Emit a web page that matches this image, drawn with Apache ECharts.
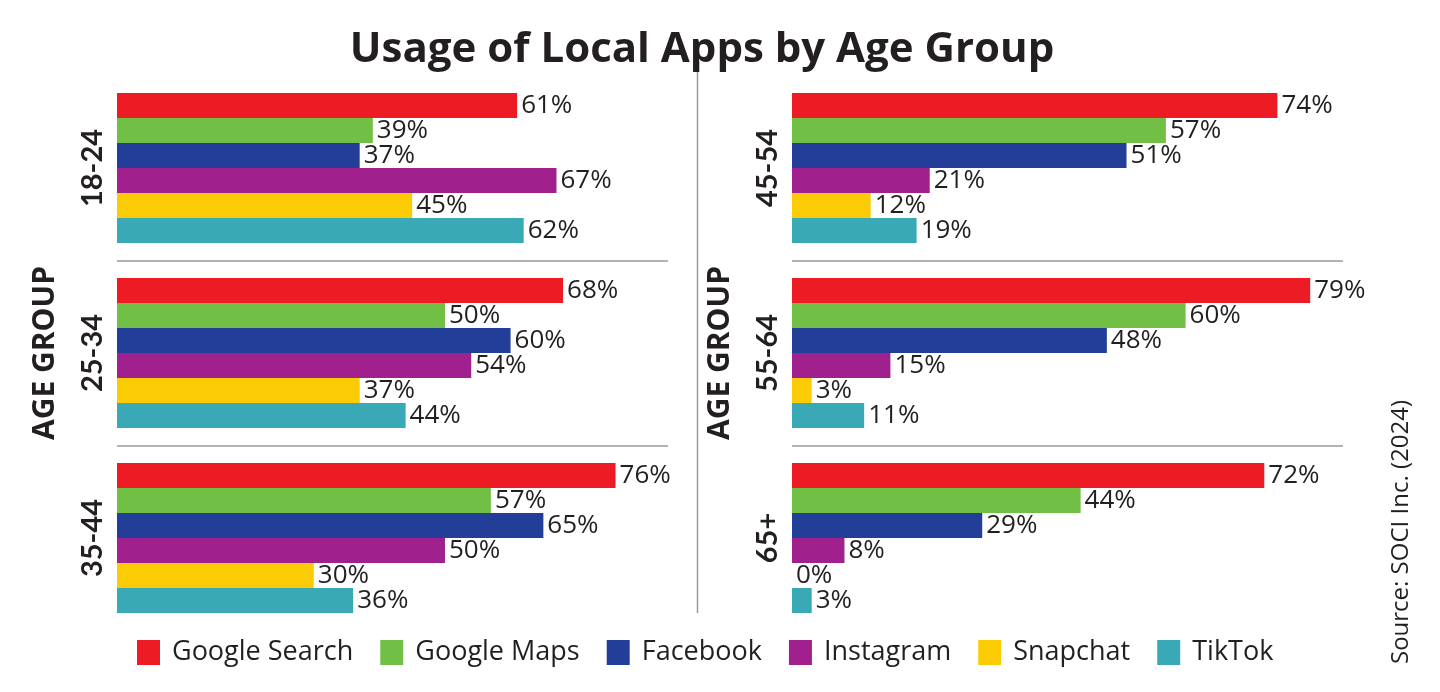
<!DOCTYPE html>
<html><head><meta charset="utf-8">
<script src="https://cdn.jsdelivr.net/npm/echarts@6/dist/echarts.min.js"></script>
<style>html,body{margin:0;padding:0;background:#fff}#c{width:1440px;height:692px}</style>
</head><body><div id="c"></div>
<script>
const seriesNames = ['Google Search','Google Maps','Facebook','Instagram','Snapchat','TikTok'];
const leftGroups = ['18-24','25-34','35-44'];
const rightGroups = ['45-54','55-64','65+'];
// values per app, in order 18-24, 25-34, 35-44, 45-54, 55-64, 65+
const googleSearch = [61,68,76,74,79,72];
const googleMaps   = [39,50,57,57,60,44];
const facebook     = [37,60,65,51,48,29];
const instagram    = [67,54,50,21,15,8];
const snapchat     = [45,37,30,12,3,0];
const tiktok       = [62,44,36,19,11,3];
const titleText = 'Usage of Local Apps by Age Group';
const sourceText = 'Source: SOCI Inc. (2024)';
const axisName = 'AGE GROUP';

const colors = ['#ED1C24','#71BF44','#233E98','#A0208E','#FBCB05','#38A9B5'];
const values = [googleSearch, googleMaps, facebook, instagram, snapchat, tiktok];
const FONT = 'Open Sans';
const TXT = '#231f20';

const chart = echarts.init(document.getElementById('c'));

function yAx(idx, data){
  return {
    gridIndex: idx, type: 'category', data: data, inverse: true,
    axisLine: {show:false}, axisTick: {show:false},
    axisLabel: {rotate: 90, fontSize: 29, fontWeight: 'bold', color: TXT, fontFamily: 'Lato', margin: 10},
    splitLine: {show: true, showMinLine: false, showMaxLine: false, lineStyle: {color: '#9a9a9a', width: 1.5}},
    name: axisName, nameLocation: 'middle', nameRotate: 90, nameGap: 57,
    nameTextStyle: {fontSize: 30, fontWeight: 'bold', color: TXT, fontFamily: FONT}
  };
}
function xAx(idx){
  return {gridIndex: idx, type: 'value', min: 0, max: 84, show: false};
}
const series = [];
[0,1].forEach(function(g){
  seriesNames.forEach(function(name, i){
    const vals = g === 0 ? values[i].slice(0,3) : values[i].slice(3);
    series.push({
      type: 'bar', name: name, xAxisIndex: g, yAxisIndex: g,
      data: vals, barGap: '0%', barCategoryGap: '18.92%',
      itemStyle: {color: colors[i]},
      label: {show: true, position: 'right', distance: 4, formatter: '{c}%',
              fontSize: 26, color: TXT, fontFamily: FONT},
      animation: false
    });
  });
});

chart.setOption({
  backgroundColor: '#fff',
  animation: false,
  title: {text: titleText, left: 697, textAlign: 'center', top: 24,
          textStyle: {fontSize: 42, fontWeight: 'bold', color: TXT, fontFamily: FONT}},
  legend: {data: seriesNames, left: 137, top: 639, padding: 0, itemWidth: 23, itemHeight: 25, itemGap: 27,
           icon: 'rect', textStyle: {fontSize: 27, color: TXT, fontFamily: FONT, padding: [0, 0, 0, 7]}},
  grid: [
    {left: 117, top: 75.5, width: 551, height: 555},
    {left: 792, top: 75.5, width: 551, height: 555}
  ],
  xAxis: [xAx(0), xAx(1)],
  yAxis: [yAx(0, leftGroups), yAx(1, rightGroups)],
  series: series,
  graphic: [
    {type: 'line', shape: {x1: 697.5, y1: 68, x2: 697.5, y2: 613}, style: {stroke: '#9a9a9a', lineWidth: 1.5}},
    {type: 'text', x: 1401, y: 532, rotation: Math.PI/2,
     style: {text: sourceText, fontSize: 24, fill: TXT, fontFamily: FONT, align: 'center', verticalAlign: 'middle'}}
  ]
});
</script></body></html>
